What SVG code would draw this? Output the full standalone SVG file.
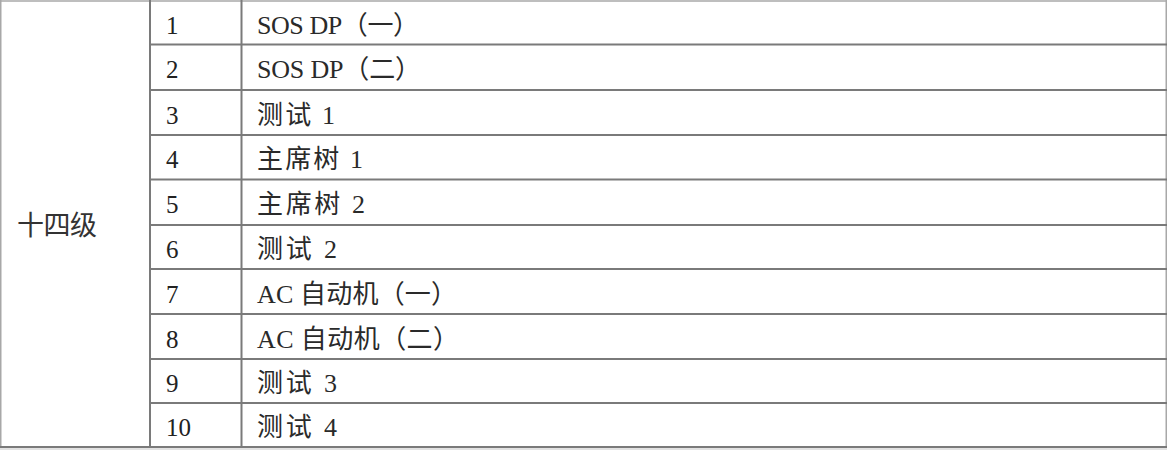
<svg xmlns="http://www.w3.org/2000/svg" width="1167" height="450" viewBox="0 0 1167 450">
<style>
.bg{fill:#ffffff}
.ln{stroke:#7a7a7a;stroke-width:2;fill:none}
.out{stroke:#a8a8a8;stroke-width:1.5;fill:none}
.num{font-family:"Liberation Serif","Noto Sans CJK SC",serif;font-size:25px;fill:#222}
.txt{font-family:"Liberation Serif","Noto Sans CJK SC",serif;font-size:26px;fill:#2a2a2a}
.lvl{font-family:"Noto Sans CJK SC",sans-serif;font-size:27px;fill:#333}
</style>
<rect class="bg" x="0" y="0" width="1167" height="450"/>
<g id="grid">
<line class="out" x1="0" y1="1" x2="1167" y2="1"/>
<line class="out" x1="0.75" y1="0" x2="0.75" y2="448"/>
<line class="out" x1="1166.25" y1="0" x2="1166.25" y2="448"/>
<line class="ln" x1="0" y1="447" x2="1167" y2="447"/>
<line class="out" x1="0" y1="449" x2="1167" y2="449" style="stroke:#d8d8d8"/>
<line class="ln" x1="150" y1="0" x2="150" y2="448"/>
<line class="ln" x1="241.5" y1="0" x2="241.5" y2="448"/>
<line class="ln" x1="150" y1="44.5" x2="1167" y2="44.5"/>
<line class="ln" x1="150" y1="90" x2="1167" y2="90"/>
<line class="ln" x1="150" y1="135" x2="1167" y2="135"/>
<line class="ln" x1="150" y1="179.5" x2="1167" y2="179.5"/>
<line class="ln" x1="150" y1="225" x2="1167" y2="225"/>
<line class="ln" x1="150" y1="269" x2="1167" y2="269"/>
<line class="ln" x1="150" y1="314" x2="1167" y2="314"/>
<line class="ln" x1="150" y1="359" x2="1167" y2="359"/>
<line class="ln" x1="150" y1="403" x2="1167" y2="403"/>
</g>
<g id="level"><text class="lvl" x="17" y="235" textLength="80">十四级</text></g>
<g id="row1"><text class="num" x="166" y="33.5">1</text><text class="txt" x="257" y="33.5" textLength="162">SOS DP（一）</text></g>
<g id="row2"><text class="num" x="166" y="78">2</text><text class="txt" x="257" y="78" textLength="164">SOS DP（二）</text></g>
<g id="row3"><text class="num" x="166" y="123.5">3</text><text class="txt" x="257" y="123.5" textLength="78">测试 1</text></g>
<g id="row4"><text class="num" x="166" y="168">4</text><text class="txt" x="257" y="168" textLength="106">主席树 1</text></g>
<g id="row5"><text class="num" x="166" y="213">5</text><text class="txt" x="257" y="213" textLength="108">主席树 2</text></g>
<g id="row6"><text class="num" x="166" y="258">6</text><text class="txt" x="257" y="258" textLength="80">测试 2</text></g>
<g id="row7"><text class="num" x="166" y="302.5">7</text><text class="txt" x="257" y="302.5" textLength="200">AC 自动机（一）</text></g>
<g id="row8"><text class="num" x="166" y="347.5">8</text><text class="txt" x="257" y="347.5" textLength="202">AC 自动机（二）</text></g>
<g id="row9"><text class="num" x="166" y="392">9</text><text class="txt" x="257" y="392" textLength="80">测试 3</text></g>
<g id="row10"><text class="num" x="166" y="436">10</text><text class="txt" x="257" y="436" textLength="80">测试 4</text></g>
</svg>
